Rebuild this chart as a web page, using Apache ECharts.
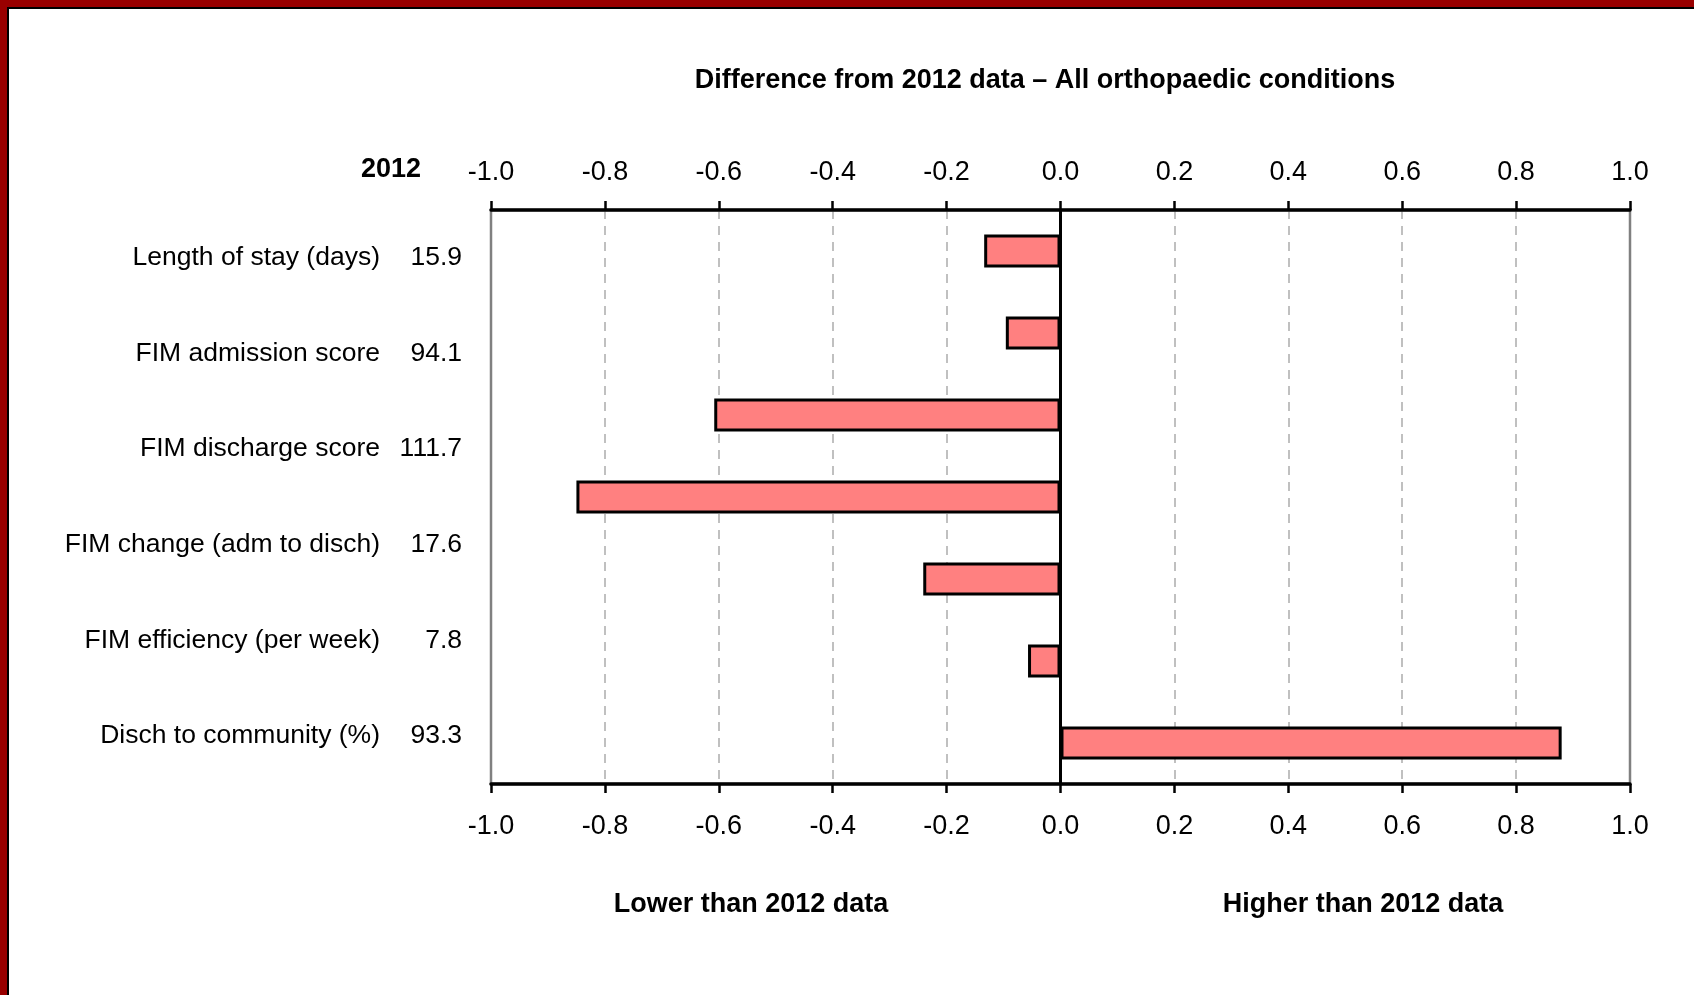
<!DOCTYPE html>
<html>
<head>
<meta charset="utf-8">
<script src="https://cdn.jsdelivr.net/npm/echarts@6/dist/echarts.min.js"></script>
<style>
  html, body { margin: 0; padding: 0; background: #fff; }
  #chart { position: absolute; left: 0; top: 0; width: 1694px; height: 995px; }
  .frame-red { position: absolute; left: 0; top: 0; width: 1694px; height: 995px;
    border-top: 7px solid #990000; border-left: 7px solid #990000; box-sizing: border-box; pointer-events: none; }
  .frame-black { position: absolute; left: 7px; top: 7px; width: 1687px; height: 988px;
    border-top: 2px solid #000; border-left: 2px solid #000; box-sizing: border-box; pointer-events: none; }
</style>
</head>
<body>
<div id="chart"></div>
<div class="frame-red"></div>
<div class="frame-black"></div>
<script>
// row labels shown on the left with their 2012 values
var rowNames = ['Length of stay (days)', 'FIM admission score', 'FIM discharge score',
    'FIM change (adm to disch)', 'FIM efficiency (per week)', 'Disch to community (%)'];
var rowValues2012 = ['15.9', '94.1', '111.7', '17.6', '7.8', '93.3'];

// the bars (seven of them in the original chart)
var barSlots = ['1', '2', '3', '4', '5', '6', '7'];
var barDiffs = [-0.134, -0.096, -0.608, -0.850, -0.241, -0.057, 0.880];

var FONT = "'Liberation Sans', Arial, sans-serif";

var myChart = echarts.init(document.getElementById('chart'));

var tickLabel = {
    fontFamily: FONT,
    fontSize: 27,
    color: '#000',
    formatter: function (v) { return v.toFixed(1); }
};

var boldText = { fontFamily: FONT, fontSize: 27, fontWeight: 'bold', color: '#000' };

var option = {
    backgroundColor: '#fff',
    animation: false,
    title: [{
        text: 'Difference from 2012 data \u2013 All orthopaedic conditions',
        left: 1045, top: 67, textAlign: 'center', padding: 0, textStyle: boldText
    }, {
        text: '2012',
        left: 421, top: 156, textAlign: 'right', padding: 0, textStyle: boldText
    }, {
        text: 'Lower than 2012 data',
        left: 751, top: 891, textAlign: 'center', padding: 0, textStyle: boldText
    }, {
        text: 'Higher than 2012 data',
        left: 1363, top: 891, textAlign: 'center', padding: 0, textStyle: boldText
    }],
    grid: {
        left: 491, right: 64, top: 210, bottom: 211,
        show: true, borderColor: '#808080', borderWidth: 2.5, backgroundColor: 'transparent'
    },
    xAxis: [{
        type: 'value', position: 'top', min: -1, max: 1, interval: 0.2,
        axisLine: { show: true, lineStyle: { color: '#000', width: 3.5 } },
        axisTick: { show: true, length: 9, lineStyle: { color: '#000', width: 2.5 } },
        axisLabel: Object.assign({ margin: 24 }, tickLabel),
        splitLine: {
            show: true, showMinLine: false, showMaxLine: false,
            lineStyle: { color: '#c0c0c0', width: 2, type: [9, 7] }
        }
    }, {
        type: 'value', position: 'bottom', min: -1, max: 1, interval: 0.2,
        axisLine: { show: true, lineStyle: { color: '#000', width: 3.5 } },
        axisTick: { show: true, length: 9, lineStyle: { color: '#000', width: 2.5 } },
        axisLabel: Object.assign({ margin: 29 }, tickLabel),
        splitLine: { show: false }
    }],
    yAxis: [{
        type: 'category', position: 'left', inverse: true, data: barSlots,
        axisLine: { show: true, onZero: true, onZeroAxisIndex: 0, lineStyle: { color: '#000', width: 3 } },
        axisTick: { show: false },
        axisLabel: { show: false },
        splitLine: { show: false }
    }, {
        type: 'category', position: 'left', inverse: true, data: rowNames,
        axisLine: { show: false, onZero: false },
        axisTick: { show: false },
        splitLine: { show: false },
        axisLabel: {
            margin: 29,
            fontFamily: FONT, fontSize: 26.5, color: '#000',
            formatter: function (name, i) {
                return '{n|' + name + '}{v|' + rowValues2012[i] + '}';
            },
            rich: {
                n: { fontFamily: FONT, fontSize: 26.5, color: '#000', padding: [0, 6, 0, 0] },
                v: { fontFamily: FONT, fontSize: 26.5, color: '#000', width: 76, align: 'right' }
            }
        }
    }],
    series: [{
        name: 'Difference',
        type: 'bar',
        xAxisIndex: 0,
        yAxisIndex: 0,
        barWidth: 33,
        data: barDiffs,
        itemStyle: { color: '#ff8080', borderColor: '#000', borderWidth: 3 }
    }]
};

myChart.setOption(option);
</script>
</body>
</html>
